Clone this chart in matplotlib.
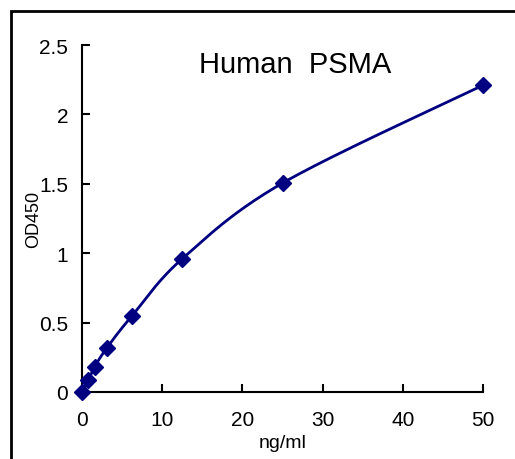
import matplotlib
matplotlib.use("Agg")
import matplotlib.pyplot as plt
from matplotlib.patches import Rectangle
import numpy as np

plt.rcParams['font.family'] = ['Liberation Sans', 'DejaVu Sans']

conc = [0, 0.78, 1.56, 3.125, 6.25, 12.5, 25, 50]
od450 = [0.0, 0.085, 0.18, 0.32, 0.55, 0.96, 1.505, 2.21]
x_ticks = [0, 10, 20, 30, 40, 50]
y_ticks = [0, 0.5, 1, 1.5, 2, 2.5]
y_labels = ["0", "0.5", "1", "1.5", "2", "2.5"]


def smooth(xs, ys, n=40):
    # excel-like smoothed line: bezier segments with catmull-rom handles
    xs = np.asarray(xs, float)
    ys = np.asarray(ys, float)
    px, py = [], []
    for i in range(len(xs) - 1):
        i0 = max(i - 1, 0)
        i3 = min(i + 2, len(xs) - 1)
        p0 = np.array([xs[i], ys[i]])
        p3 = np.array([xs[i + 1], ys[i + 1]])
        p1 = p0 + (p3 - np.array([xs[i0], ys[i0]])) / 6
        p2 = p3 - (np.array([xs[i3], ys[i3]]) - p0) / 6
        t = np.linspace(0, 1, n)[:, None]
        pts = ((1 - t) ** 3) * p0 + 3 * ((1 - t) ** 2) * t * p1 + 3 * (1 - t) * t ** 2 * p2 + t ** 3 * p3
        px.extend(pts[:, 0])
        py.extend(pts[:, 1])
    return px, py


fig = plt.figure(figsize=(5.15, 4.6), dpi=100)
fig.patches.append(Rectangle((11 / 515, -0.1), 1.2, 1 - 12 / 460 + 0.1,
                             transform=fig.transFigure, fill=False,
                             edgecolor="black", linewidth=2))
ax = fig.add_axes([82 / 515, 1 - 393 / 460, 401 / 515, 347 / 460])

sx, sy = smooth(conc, od450)
ax.plot(sx, sy, color="#000080", linewidth=2, zorder=2)
ax.plot(conc, od450, marker="D", linestyle="", markersize=8, color="#000080", zorder=3, clip_on=False)

ax.set_xlim(0, 50)
ax.set_ylim(0, 2.5)
ax.set_xticks(x_ticks)
ax.set_yticks(y_ticks)
ax.set_yticklabels(y_labels)
ax.spines["top"].set_visible(False)
ax.spines["right"].set_visible(False)
ax.spines["left"].set_linewidth(1.5)
ax.spines["bottom"].set_linewidth(1.5)
ax.tick_params(direction="in", length=6, width=1.5, labelsize=15)
ax.tick_params(axis="x", pad=13)
ax.tick_params(axis="y", pad=10)
ax.set_xlabel("ng/ml", fontsize=14)
ax.set_ylabel("OD450", fontsize=13)
ax.xaxis.set_label_coords(0.5, -0.122)
ax.yaxis.set_label_coords(-0.1, 0.5)
ax.text(0.531, 0.945, "Human  PSMA", transform=ax.transAxes, ha="center", va="center", fontsize=21)

fig.savefig("out.png", dpi=100)
